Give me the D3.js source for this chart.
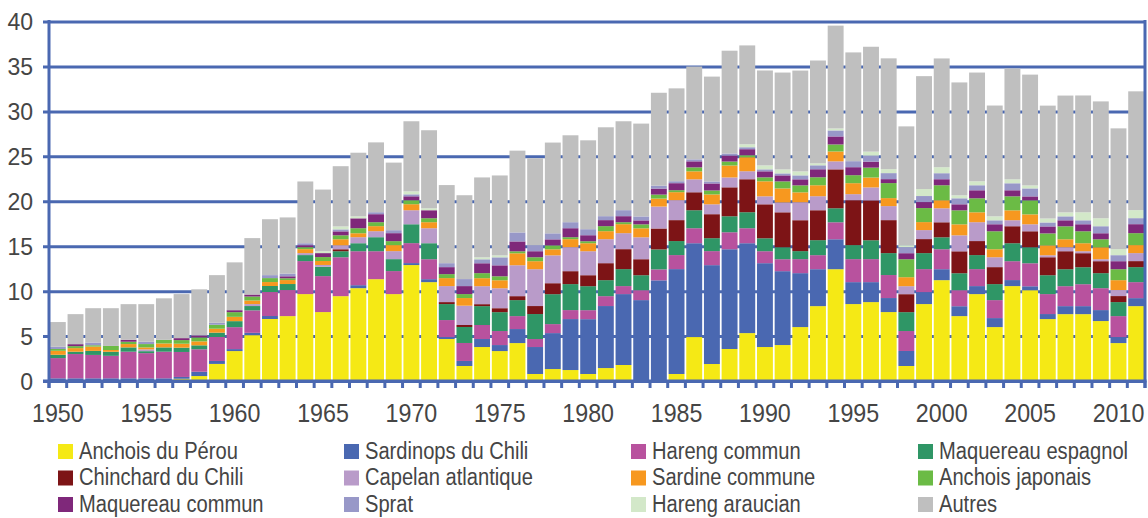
<!DOCTYPE html>
<html>
<head>
<meta charset="utf-8">
<script src="https://cdn.jsdelivr.net/npm/d3@7"></script>
<style>
  html, body { margin: 0; padding: 0; background: #fff; }
  #chart { width: 1148px; height: 518px; }
  text { font-family: "Liberation Sans Narrow", "Liberation Sans", Arial, sans-serif; fill: #454545; }
</style>
</head>
<body>
<div id="chart"></div>
<script>
const years = d3.range(1950, 2012);
const yTicks = [0, 5, 10, 15, 20, 25, 30, 35, 40];
const xLabelYears = [1950, 1955, 1960, 1965, 1970, 1975, 1980, 1985, 1990, 1995, 2000, 2005, 2010];

const seriesNames = [
  'Anchois du Pérou', 'Sardinops du Chili', 'Hareng commun', 'Maquereau espagnol',
  'Chinchard du Chili', 'Capelan atlantique', 'Sardine commune', 'Anchois japonais',
  'Maquereau commun', 'Sprat', 'Hareng araucian', 'Autres'
];
const seriesColors = [
  '#f5e915', '#4a68b1', '#b8529e', '#2f9666',
  '#7d1416', '#b99bc9', '#f7981f', '#6bbb45',
  '#7f287a', '#9898c8', '#d3e8c9', '#bfbfbf'
];

// millions de tonnes, 1950 -> 2011
const anchoisPerou = [0,0,0,0,0,0,0,.25,.55,1.9, 3.33,5.1,6.9,7.22,9.67,7.67,9.44,10.33,11.33,9.67,
  12.9,11,4.67,1.67,3.78,3.33,4.22,.78,1.33,1.22, .78,1.44,1.78,0,0,.78,4.89,1.89,3.56,5.33,
  3.78,4,6,8.33,12.44,8.56,8.78,7.67,1.67,8.56, 11.22,7.22,9.67,6,10.56,10.1,6.89,7.44,7.44,6.67, 4.22,8.33];
const sardinopsChili = [.3,.3,.3,.3,.3,.3,.3,.2,.48,.33, .22,.26,.33,0,0,0,0,.33,0,0,
  .22,.33,.22,.56,.89,.67,1.56,3,4,5.67, 6.1,6.9,7.89,9,11.2,11.67,10.44,11,11.1,10,
  9.33,8.22,6,4.11,3.33,2.44,2.22,1.56,1.67,1.33, 1.22,1.1,.89,1,.67,.44,.56,.89,.89,1.22, .67,.89];
const harengCommun = [2.25,2.7,2.6,2.5,2.96,2.8,2.96,2.78,2.5,2.67, 2.44,2.5,2.67,2.9,3.67,4,4.33,3.78,3.11,2.56,
  2.22,2.22,1.89,2,1.56,1.56,1.44,.89,1,1, 1,1.1,.89,1.1,1.22,1.56,1.67,1.56,1.89,1.67,
  1.33,1.33,1.56,1.56,1.89,2.56,2.56,2.56,2.22,2.56, 2.22,1.78,1.89,2,2.1,2.56,2.22,2.22,2.44,2.44, 2.33,1.78];
const maquereauEspagnol = [.37,.26,.45,.45,.48,.22,.48,.48,.44,.48, .67,.48,.67,.67,.67,1.04,.67,.89,1.56,1.33,
  2.1,1.78,1.78,1.78,2.1,2.1,1.78,2.78,3.33,2.89, 2.67,1.78,1.89,1.67,2.22,1.56,2,1.44,1.78,1.78,
  1.44,1.33,.89,1.67,1.56,1.56,2.1,2.44,2.1,1.78, 1.33,1.89,1.56,1.78,2,1.78,2.1,1.89,1.89,1.67, 1.56,1.67];
const chinchardChili = [0,0,0,0,0,0,0,0,0,0, 0,0,0,0,0,0,.22,0,0,0,
  0,0,.22,.22,.22,.44,.44,.89,1.22,1.44, 1.22,1.89,2.22,1.78,2.33,2.33,2,2.67,3.22,3.67,
  3.78,3.89,3.44,3.33,4.33,5,4.44,3.67,2,1.56, 1.67,2.44,1.56,1.89,1.89,1.78,2,2,1.56,1.33, .67,.67];
const capelanAtlantique = [0,0,0,0,0,.2,0,0,0,0, 0,.22,0,0,.22,.2,.44,.67,.67,.89,
  1.56,1.67,1.78,2.15,2,2.22,3.44,4.1,3.1,2.67, 2.67,2.67,1.78,2.44,2.44,2.22,1.44,1.1,1.1,.89,
  .89,1.1,2,1.56,.89,.67,1.44,1.56,.89,1, 1.56,1.78,2.1,1.1,.67,.78,.22,.44,.22,.22, .67,.89];
const sardineCommune = [.44,.4,.48,.2,.37,.22,.44,.44,.44,.44, .48,.4,.44,.44,.44,.44,.67,.44,.56,.67,
  .67,.67,.89,.85,.89,.89,1.33,.89,.67,.89, .89,.89,1,1,.89,.89,.89,1.1,1.33,1.56,
  1.67,1.56,1.1,1.22,1.1,1.22,1.1,.89,1,.89, .89,1.22,1.1,.89,1.1,1.1,1.1,.89,.89,1.33, 1.1,.89];
const anchoisJaponais = [.2,.22,.15,.45,.26,.37,.4,.4,.44,.44, .52,.44,.44,.2,.22,.44,.44,.56,.44,.44,
  .44,.44,.44,.44,.56,.44,.22,.44,.44,.22, .22,.56,.22,.44,.44,.22,.44,.44,.44,.22,
  .44,.78,.78,.89,.78,.89,1.1,1.67,2,1.56, 1.67,1.56,1.56,2,1.56,1.56,1.33,1.44,1.33,.89, 1.22,1.33];
const maquereauCommun = [0,.22,0,0,.22,0,0,.22,.22,0, .22,.22,0,.22,.22,.44,.44,1.1,.89,.89,
  .44,.89,.78,.89,1.1,1.22,1.1,.67,.67,1, .67,.67,.67,.44,.67,.78,.67,.78,.67,.67,
  .67,.67,.67,.89,.89,.89,.67,.44,.67,.67, .67,.67,.89,.78,.67,.44,.78,.67,.78,.67, .89,1];
const sprat = [.25,0,.3,0,0,.26,0,0,0,.22, 0,0,.33,.3,.22,0,.22,0,.22,.33,
  .22,0,.44,.78,.44,.89,1,.67,.67,.67, .67,.44,.67,.44,.33,.22,.22,.22,.22,.22,
  .22,.22,.44,.44,.67,.67,.67,.67,.67,.67, .67,.67,.56,.44,.78,.89,.44,.44,.44,.78, .67,.67];
const harengAraucian = [0,0,0,0,0,0,0,0,0,0, 0,0,0,0,0,.22,.33,.22,0,0,
  .33,.22,0,0,.22,.22,0,0,0,0, 0,0,0,0,0,0,0,0,0,.33,
  .44,.44,.44,.22,.22,0,.44,.44,.22,.78, .67,.33,.44,.44,.44,.33,.44,.44,.89,.89, .67,.89];
const autres = [2.75,3.34,3.82,4.2,3.96,4.18,4.62,4.9,5.13,5.3, 5.32,6.28,6.22,6.25,6.87,6.85,6.7,7.08,7.77,7.52,
  7.8,8.68,8.69,9.33,8.89,8.89,9.1,9.67,10.1,9.67, 9.89,9.89,9.89,10.33,10.33,10.33,10.33,11.67,11.44,11,
  10.56,10.78,11.22,11.44,11.44,12.1,11.67,12.33,13.22,12.56, 12.1,12.56,12.1,12.33,12.33,12.33,12.56,13,13,13, 13.44,13.22];

const seriesValues = [anchoisPerou, sardinopsChili, harengCommun, maquereauEspagnol,
  chinchardChili, capelanAtlantique, sardineCommune, anchoisJaponais,
  maquereauCommun, sprat, harengAraucian, autres];

// table for d3.stack
const table = years.map((yr, i) => {
  const row = { year: yr };
  seriesNames.forEach((s, k) => { row[s] = seriesValues[k][i]; });
  return row;
});

const width = 1148, height = 518;
const plotL = 49, plotR = 1145, plotT = 21.5, plotB = 381;
const axisBlue = '#4a68b1';

const svg = d3.select('#chart').append('svg')
  .attr('width', width).attr('height', height);

const x = d3.scaleBand().domain(years).range([plotL, plotR])
  .paddingInner(0.1).paddingOuter(0.05);
const y = d3.scaleLinear().domain([0, 40]).range([plotB, plotT]);
const color = d3.scaleOrdinal().domain(seriesNames).range(seriesColors);

// gridlines (behind bars)
const gridG = svg.append('g').attr('transform', `translate(${plotL},0)`)
  .call(d3.axisLeft(y).tickValues(yTicks).tickSize(-(plotR - plotL)).tickFormat(d => d));
gridG.select('.domain').remove();
gridG.selectAll('.tick line')
  .attr('x1', -6).attr('x2', plotR - plotL)
  .attr('stroke', axisBlue).attr('stroke-width', 3);
gridG.selectAll('.tick text')
  .attr('x', -16).attr('dy', '0.36em')
  .style('font-size', '23px').attr('fill', '#454545')
  .style('font-family', '"Liberation Sans Narrow", "Liberation Sans", sans-serif');

// stacked bars
const stacked = d3.stack().keys(seriesNames)(table);
svg.append('g').selectAll('g').data(stacked).join('g')
  .attr('fill', d => color(d.key))
  .selectAll('rect').data(d => d).join('rect')
  .attr('x', d => x(d.data.year))
  .attr('width', x.bandwidth())
  .attr('y', d => y(d[1]))
  .attr('height', d => Math.max(0, y(d[0]) - y(d[1])));

// x axis: ticks between the bars
const halfGap = x.step() * x.paddingInner() / 2;
const tickXs = years.map(yr => x(yr) - halfGap).concat([x(years[years.length - 1]) + x.bandwidth() + halfGap]);
const axisG = svg.append('g');
axisG.selectAll('line.xt').data(tickXs).join('line')
  .attr('class', 'xt')
  .attr('x1', d => d).attr('x2', d => d)
  .attr('y1', plotB).attr('y2', plotB + 7)
  .attr('stroke', axisBlue).attr('stroke-width', 3);
axisG.append('line')
  .attr('x1', plotL - 6).attr('x2', plotR + 1.5)
  .attr('y1', y(0)).attr('y2', y(0))
  .attr('stroke', axisBlue).attr('stroke-width', 3);
// left axis and right frame
axisG.append('line')
  .attr('x1', plotL).attr('x2', plotL)
  .attr('y1', plotT - 1.5).attr('y2', plotB + 7)
  .attr('stroke', axisBlue).attr('stroke-width', 3);
axisG.append('line')
  .attr('x1', plotR).attr('x2', plotR)
  .attr('y1', plotT - 1.5).attr('y2', plotB + 7)
  .attr('stroke', axisBlue).attr('stroke-width', 3);

svg.append('g').selectAll('text').data(xLabelYears).join('text')
  .attr('transform', d => `translate(${x(d) + x.bandwidth() / 2},422) scale(0.93,1)`)
  .attr('text-anchor', 'middle')
  .style('font-size', '25px')
  .text(d => d);

// legend, 4 columns x 3 rows
const legCols = [58, 344, 631, 918];
const legRows = [444, 470.5, 497];
const leg = svg.append('g').selectAll('g').data(seriesNames).join('g')
  .attr('transform', (d, i) => `translate(${legCols[i % 4]},${legRows[Math.floor(i / 4)]})`);
leg.append('rect')
  .attr('width', 15).attr('height', 15)
  .attr('fill', d => color(d));
leg.append('text')
  .attr('transform', 'translate(21,14.5) scale(0.875,1)')
  .style('font-size', '23px')
  .text(d => d);
</script>
</body>
</html>
